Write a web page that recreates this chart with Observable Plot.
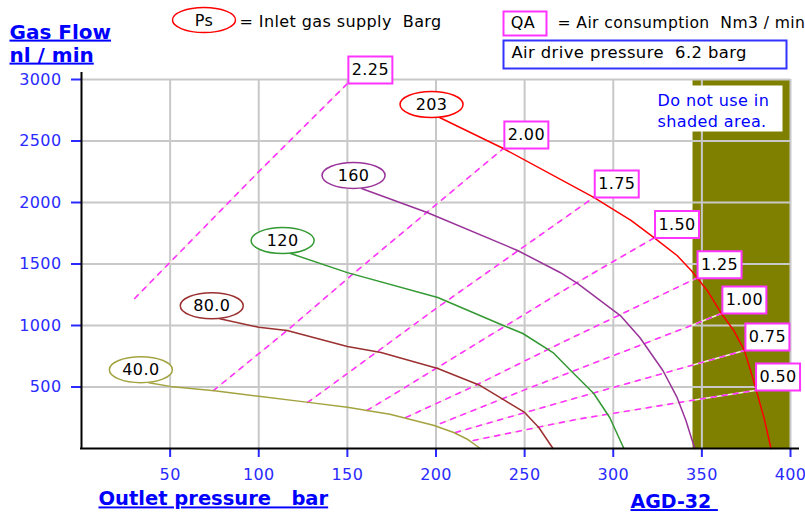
<!DOCTYPE html>
<html>
<head>
<meta charset="utf-8">
<script src="https://cdn.jsdelivr.net/npm/d3@7"></script>
<script src="https://cdn.jsdelivr.net/npm/@observablehq/plot@0.6"></script>
<style>
  html, body { margin: 0; padding: 0; background: white; }
  #chart svg text { white-space: pre; letter-spacing: 0.4px; }
  #chart svg g[font-weight="bold"] text { letter-spacing: 0; text-decoration: underline; }
  #chart svg [aria-label$="axis tick"] path,
  #chart svg [aria-label$="axis tick"] line,
  #chart svg [aria-label="x-axis"] line,
  #chart svg [aria-label="y-axis"] line { stroke-width: 2px; }
</style>
</head>
<body>
<div id="chart"></div>
<script>
// ---- axis ticks ----
const xTicks = [50, 100, 150, 200, 250, 300, 350, 400];
const yTicks = [500, 1000, 1500, 2000, 2500, 3000];

// ---- Ps (inlet gas supply, barg) curves: [outlet pressure bar, gas flow nl/min] ----
const psLabels = ["40.0", "80.0", "120", "160", "203"];
const psColors = ["#a3a340", "#9b3030", "#339933", "#993399", "#ff0000"];
const ps40  = [[38,535],[50,505],[75,470],[100,425],[128,375],[150,335],[174,278],[199,187],[210,130],[218,73],[225,0]];
const ps80  = [[78,1055],[100,985],[116,960],[150,830],[169,780],[201,650],[225,512],[236,415],[250,293],[258,171],[266,0]];
const ps120 = [[118,1585],[150,1430],[201,1228],[238,1000],[249,935],[266,780],[276,634],[289,447],[298,252],[306,0]];
const ps160 = [[158,2114],[195,1919],[246,1610],[270,1431],[280,1341],[304,1081],[315,902],[328,634],[336,415],[341,228],[344,89],[346,0]];
const ps203 = [[202,2691],[238,2439],[289,2041],[310,1854],[323,1715],[336,1569],[344,1447],[353,1285],[361,1098],[368,959],[374,797],[379,560],[385,252],[389,0]];

// ---- QA (air consumption, Nm3/min) lines ----
const qaLabels = ["2.25", "2.00", "1.75", "1.50", "1.25", "1.00", "0.75", "0.50"];
const qa225 = [[30,1220],[99,2236],[150,2967]];
const qa200 = [[74.5,472],[116,959],[153.5,1423],[238,2439]];
const qa175 = [[127.5,374],[157,683],[200,1138],[289,2041]];
const qa150 = [[161,309],[176,439],[270,1268],[298,1504],[323,1712]];
const qa125 = [[183,252],[221,504],[270,854],[347,1385]];
const qa100 = [[202.5,203],[252,488],[344,1000],[361,1098]];
const qa075 = [[211,130],[280,415],[344,675],[374,797]];
const qa050 = [[221,65],[279,236],[344,390],[380,472]];

// ---- shaded (do-not-use) region ----
const shadeFrom = 345, shadeTo = 400;

// ---- build tables ----
const psSeries = [ps40, ps80, ps120, ps160, ps203];
const qaSeries = [qa225, qa200, qa175, qa150, qa125, qa100, qa075, qa050];
const psStarts = psSeries.map((s, i) => ({x: s[0][0], y: s[0][1], label: psLabels[i], color: psColors[i]}));
const qaEnds = qaSeries.map((s, i) => ({x: s[s.length-1][0], y: s[s.length-1][1], label: qaLabels[i]}));

// custom symbols
const rectSym = (x0, y0, w, h) => ({draw(ctx) {
  ctx.moveTo(x0, y0); ctx.lineTo(x0 + w, y0); ctx.lineTo(x0 + w, y0 + h); ctx.lineTo(x0, y0 + h); ctx.closePath();
}});
const ellSym = (rx, ry) => ({draw(ctx) {
  const k = 0.5523, kx = rx * k, ky = ry * k;
  ctx.moveTo(rx, 0);
  ctx.bezierCurveTo(rx, ky, kx, ry, 0, ry);
  ctx.bezierCurveTo(-kx, ry, -rx, ky, -rx, 0);
  ctx.bezierCurveTo(-rx, -ky, -kx, -ry, 0, -ry);
  ctx.bezierCurveTo(kx, -ry, rx, -ky, rx, 0);
  ctx.closePath();
}});

const FONT = "DejaVu Sans";
const BLUE = "#0000ff";
const TICKBLUE = "#2a2aff";
const MAGENTA = "#ff33ff";

const note = (text, anchor, dx, dy, opts = {}) =>
  Plot.text([text], {text: d => d, frameAnchor: anchor, dx, dy, textAnchor: "start", lineAnchor: "middle", fill: "black", fontSize: 16, ...opts});
const shape = (anchor, dx, dy, symbol, opts) =>
  Plot.dot([0], {frameAnchor: anchor, dx, dy, symbol, ...opts});

const marks = [
  Plot.rect([0], {x1: () => shadeFrom, x2: () => shadeTo, y1: () => 0, y2: () => 3000, fill: "#808000"}),
  Plot.ruleX(xTicks, {stroke: "#c8c8c8", strokeWidth: 2}),
  Plot.ruleY(yTicks, {stroke: "#c8c8c8", strokeWidth: 2}),
  ...qaSeries.map(s => Plot.line(s, {x: d => d[0], y: d => d[1], stroke: "#f2f2dc", strokeWidth: 1.6})),
  ...qaSeries.map(s => Plot.line(s, {x: d => d[0], y: d => d[1], stroke: MAGENTA, strokeWidth: 1.6, strokeDasharray: "5,6"})),
  ...psSeries.map((s, i) => Plot.line(s, {x: d => d[0], y: d => d[1], stroke: psColors[i], strokeWidth: 1.5})),
  Plot.ruleX([0], {stroke: "black", strokeWidth: 2, insetTop: -7}),
  Plot.ruleY([0], {stroke: "black", strokeWidth: 2, insetLeft: -1, insetRight: -9}),
  // Ps ellipses
  ...psStarts.map(d => Plot.dot([d], {x: "x", y: "y", dx: -8, dy: -13, symbol: ellSym(31.5, 13), fill: "white", stroke: d.color, strokeWidth: 1.5})),
  Plot.text(psStarts, {x: "x", y: "y", text: "label", dx: -8, dy: -13, fill: "black", fontSize: 16}),
  // QA boxes
  Plot.dot(qaEnds, {x: "x", y: "y", symbol: rectSym(1, -27, 44, 27), fill: "white", stroke: MAGENTA, strokeWidth: 2}),
  Plot.text(qaEnds, {x: "x", y: "y", text: "label", dx: 23, dy: -13.5, fill: "black", fontSize: 16}),
  // do not use note
  shape("top-right", -73, 29, rectSym(-65, -23, 130, 46), {fill: "white", stroke: "none"}),
  note("Do not use in", "top-right", -133, 21.5, {fill: BLUE}),
  note("shaded area.", "top-right", -133, 42, {fill: BLUE}),
  // legend top
  shape("top-left", 122.5, -59.5, ellSym(31.5, 12.5), {fill: "white", stroke: "#ff0000", strokeWidth: 1.5}),
  note("Ps", "top-left", 122.5, -59, {textAnchor: "middle"}),
  note("= Inlet gas supply  Barg", "top-left", 158, -57.5),
  shape("top-left", 443.5, -56, rectSym(-21.5, -12, 43, 24), {fill: "white", stroke: MAGENTA, strokeWidth: 2}),
  note("QA", "top-left", 441.5, -57, {textAnchor: "middle"}),
  note("= Air consumption  Nm3 / min", "top-left", 476, -57, {fontSize: 15.6}),
  shape("top-left", 563.5, -25, rectSym(-141.5, -14, 283, 28), {fill: "white", stroke: "#3333ff", strokeWidth: 2}),
  note("Air drive pressure  6.2 barg", "top-left", 430, -26.5, {fontSize: 16.4}),
  // titles
  note("Gas Flow", "top-left", -72, -47.3, {fill: BLUE, fontWeight: "bold", fontSize: 20}),
  note("nl / min", "top-left", -72, -24.3, {fill: BLUE, fontWeight: "bold", fontSize: 20}),
  note("Outlet pressure   bar", "top-left", 17, 419.7, {fill: BLUE, fontWeight: "bold", fontSize: 19.5}),
  note("AGD-32 ", "top-left", 549, 422.5, {fill: BLUE, fontWeight: "bold", fontSize: 19})
];

const chart = Plot.plot({
  width: 805,
  height: 513,
  marginLeft: 81,
  marginRight: 15,
  marginTop: 79,
  marginBottom: 65,
  style: {fontFamily: FONT, fontSize: "16px", color: TICKBLUE, background: "white", overflow: "visible"},
  x: {domain: [0, 400], ticks: xTicks, tickSize: 9, tickPadding: 11, tickFormat: "d", label: null},
  y: {domain: [0, 3000], ticks: yTicks, tickSize: 10, tickPadding: 10, tickFormat: "d", label: null},
  marks
});
document.getElementById("chart").appendChild(chart);
</script>
</body>
</html>
